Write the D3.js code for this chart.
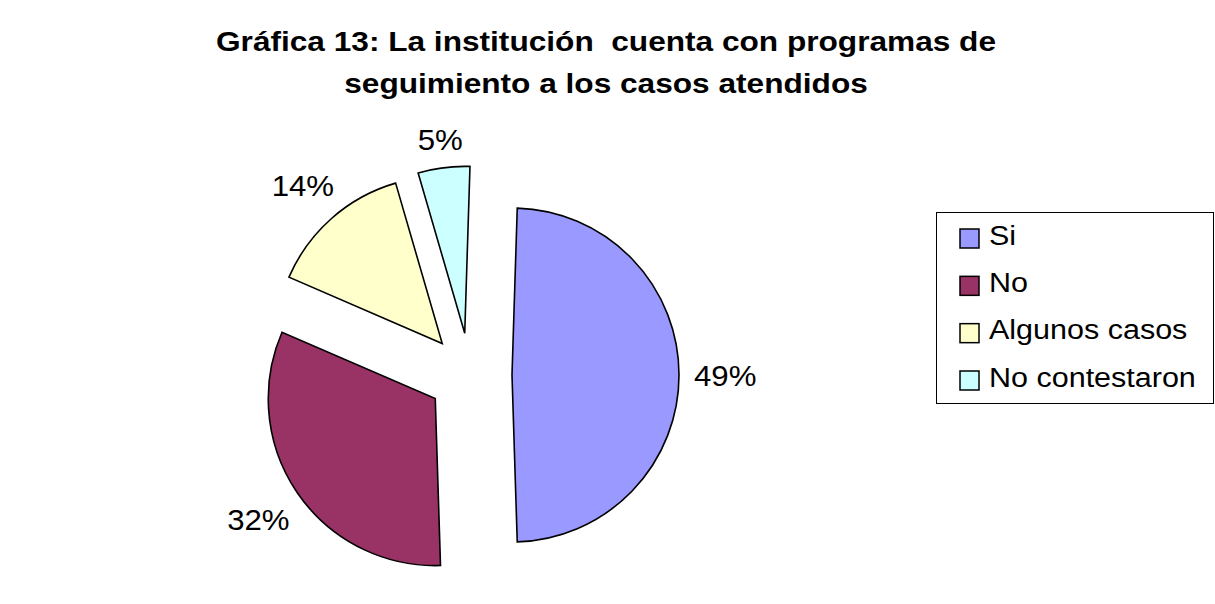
<!DOCTYPE html>
<html>
<head>
<meta charset="utf-8">
<script src="https://d3js.org/d3.v7.min.js"></script>
<style>
  body { margin: 0; background: #fff; }
  text { font-family: "Liberation Sans", Arial, sans-serif; fill: #000; }
</style>
</head>
<body>
<script>
  // data
  const categories = ["Si", "No", "Algunos casos", "No contestaron"];
  const values = [49, 32, 14, 5];
  const titleLines = ["Gráfica 13: La institución  cuenta con programas de",
                      "seguimiento a los casos atendidos"];
  const colors = ["#9999FF", "#993366", "#FFFFCC", "#CCFFFF"];

  const width = 1215, height = 604;
  const cx = 470, cy = 375, radius = 167, explode = 42;
  const rot = 1.8 * Math.PI / 180; // first slice angle

  var svg = d3.select("body")
    .append("svg")
    .attr("width", width)
    .attr("height", height);

  // title (the original is rendered a bit wide, hence the x stretch)
  svg.selectAll(".title")
    .data(titleLines)
    .enter()
    .append("g")
    .attr("class", "title")
    .attr("transform", function(d, i) {
      return "translate(606," + (51 + i * 42) + ") scale(1.15,1)";
    })
    .append("text")
    .attr("text-anchor", "middle")
    .attr("font-size", "27.5px")
    .attr("font-weight", "bold")
    .style("white-space", "pre")
    .text(function(d) { return d; });

  var pie = d3.pie().sort(null)
    .startAngle(rot).endAngle(rot + 2 * Math.PI)
    .value(function(d) { return d; });
  var arcs = pie(values);

  var arc = d3.arc().innerRadius(0).outerRadius(radius);

  function mid(d) { return (d.startAngle + d.endAngle) / 2; }

  // exploded slices
  var slice = svg.selectAll(".slice")
    .data(arcs)
    .enter()
    .append("g")
    .attr("class", "slice")
    .attr("transform", function(d) {
      var a = mid(d);
      return "translate(" + (cx + explode * Math.sin(a)) + "," + (cy - explode * Math.cos(a)) + ")";
    });

  slice.append("path")
    .attr("d", arc)
    .attr("fill", function(d, i) { return colors[i]; })
    .attr("stroke", "#000")
    .attr("stroke-width", 1.6)
    .attr("stroke-linejoin", "miter");

  // percentage labels outside each slice
  const labelSize = 30, labelStretch = 1.04;
  slice.each(function(d) {
    var a = mid(d);
    var sx = Math.sin(a), sy = -Math.cos(a);
    var g = d3.select(this).append("g");
    var t = g.append("text")
      .attr("text-anchor", "middle")
      .attr("font-size", labelSize + "px")
      .text(Math.round(d.value) + "%");
    var w = t.node().getComputedTextLength() * labelStretch;
    var h = 0.716 * labelSize;
    var dist = radius + 15 + Math.abs(sx) * w / 2 + Math.abs(sy) * h / 2;
    g.attr("transform", "translate(" + (dist * sx) + "," + (dist * sy + h / 2) + ") scale(" + labelStretch + ",1)");
  });

  // legend
  var legend = svg.append("g");
  legend.append("rect")
    .attr("x", 936.5)
    .attr("y", 212.5)
    .attr("width", 277)
    .attr("height", 191)
    .attr("fill", "#fff")
    .attr("stroke", "#000")
    .attr("stroke-width", 1);

  var ly = d3.scalePoint().domain(categories).range([238.5, 380.5]);

  var item = legend.selectAll(".item")
    .data(categories)
    .enter()
    .append("g")
    .attr("class", "item")
    .attr("transform", function(d) { return "translate(0," + ly(d) + ")"; });

  item.append("rect")
    .attr("x", 960)
    .attr("y", -9.5)
    .attr("width", 19)
    .attr("height", 19)
    .attr("fill", function(d, i) { return colors[i]; })
    .attr("stroke", "#000")
    .attr("stroke-width", 1.5);

  item.append("g")
    .attr("transform", "translate(989,6) scale(1.09,1)")
    .append("text")
    .attr("font-size", "28px")
    .text(function(d) { return d; });
</script>
</body>
</html>
